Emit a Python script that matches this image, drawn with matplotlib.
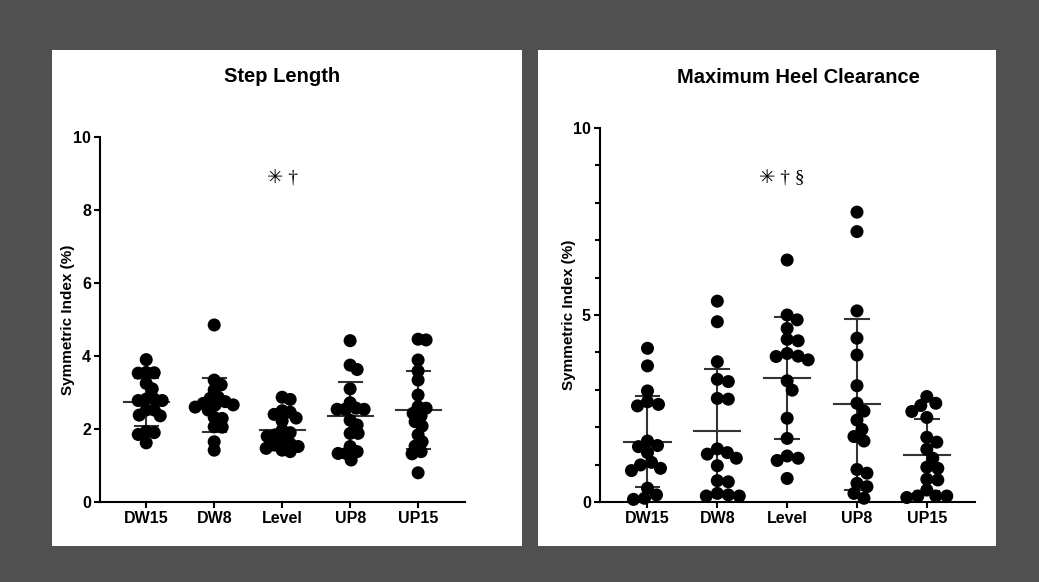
import numpy as np
import matplotlib
matplotlib.use('Agg')
import matplotlib.pyplot as plt
from matplotlib.patches import Rectangle

plt.rcParams['font.family'] = ['Liberation Sans', 'DejaVu Sans']

# groups on the x axis
groups = ['DW15', 'DW8', 'Level', 'UP8', 'UP15']

# Step Length symmetric index (%)
step_dw15 = [3.90, 3.54, 3.53, 3.55, 3.25, 3.10, 2.82, 2.82, 2.78, 2.78, 2.52, 2.52,
             2.36, 2.38, 1.93, 1.85, 1.90, 1.62]
step_dw8 = [4.85, 3.34, 3.21, 3.07, 2.75, 2.66, 2.84, 2.87, 2.66, 2.52, 2.32, 2.29,
            2.06, 2.05, 1.65, 1.42, 2.70, 2.60]
step_level = [2.87, 2.81, 2.50, 2.46, 2.40, 2.30, 2.22, 1.97, 1.90, 1.84, 1.80, 1.65,
              1.60, 1.56, 1.52, 1.47, 1.42, 1.38]
step_up8 = [4.42, 3.75, 3.63, 3.10, 2.72, 2.57, 2.54, 2.54, 2.54, 2.24, 2.11, 1.88,
            1.88, 1.52, 1.38, 1.33, 1.33, 1.15]
step_up15 = [4.44, 4.46, 3.89, 3.59, 3.34, 2.93, 2.61, 2.43, 2.57, 2.36, 2.08, 2.20,
             1.84, 1.65, 1.53, 1.38, 1.32, 0.80]

# Maximum Heel Clearance symmetric index (%)
heel_dw15 = [4.11, 3.64, 2.97, 2.61, 2.57, 2.68, 1.48, 1.51, 1.63, 1.32, 1.06, 0.90,
             0.99, 0.84, 0.37, 0.07, 0.10, 0.19]
heel_dw8 = [5.37, 4.82, 3.75, 3.22, 3.28, 2.75, 2.77, 1.42, 1.32, 1.17, 1.28, 0.97,
            0.54, 0.57, 0.16, 0.23, 0.16, 0.19]
heel_level = [6.47, 5.00, 4.87, 4.64, 4.31, 4.35, 3.80, 3.90, 3.97, 3.89, 3.24, 2.99,
              2.24, 1.70, 1.23, 1.11, 1.17, 0.63]
heel_up8 = [7.75, 7.23, 5.11, 4.38, 3.93, 3.11, 2.64, 2.43, 2.19, 1.94, 1.75, 1.63,
            0.87, 0.77, 0.50, 0.41, 0.23, 0.10]
heel_up15 = [2.82, 2.58, 2.64, 2.42, 2.26, 1.73, 1.60, 1.41, 1.17, 0.90, 0.93, 0.61,
             0.59, 0.32, 0.16, 0.16, 0.16, 0.12]

step_data = [step_dw15, step_dw8, step_level, step_up8, step_up15]
heel_data = [heel_dw15, heel_dw8, heel_level, heel_up8, heel_up15]

W, H = 1039, 582
fig = plt.figure(figsize=(W / 100, H / 100), dpi=100)
fig.patch.set_facecolor('#505050')

# white panels behind each chart
fig.patches.append(Rectangle((52 / W, 1 - 546 / H), (522 - 52) / W, (546 - 50) / H,
                             transform=fig.transFigure, facecolor='white', edgecolor='none', zorder=-10))
fig.patches.append(Rectangle((538 / W, 1 - 546 / H), (996 - 538) / W, (546 - 50) / H,
                             transform=fig.transFigure, facecolor='white', edgecolor='none', zorder=-10))

ax1 = fig.add_axes([100 / W, 1 - 502 / H, (465 - 100) / W, (502 - 137) / H])
ax2 = fig.add_axes([600 / W, 1 - 502 / H, (975 - 600) / W, (502 - 128) / H])


def swarm(ax, values, center, diam):
    # simple beeswarm in pixel space, points may overlap a bit like Prism
    trans = ax.transData
    placed = []
    order = np.argsort(values)[::-1]
    out = np.zeros(len(values))
    for i in order:
        px, py = trans.transform((center, values[i]))
        best = None
        for k in range(0, 200):
            for sgn in ([1] if k == 0 else [1, -1]):
                cx = px + sgn * k
                ok = all((cx - qx) ** 2 + (py - qy) ** 2 >= diam ** 2 for qx, qy in placed)
                if ok:
                    best = cx
                    break
            if best is not None:
                break
        placed.append((best, py))
        out[i] = trans.inverted().transform((best, py))[0]
    return out


def draw_panel(ax, data, title, title_xy, note, note_xy, ylim_ticks, minor, gap):
    ax.patch.set_alpha(0)
    ax.set_xlim(-0.68, 4.69)
    ax.set_ylim(0, 10)
    for sp in ['top', 'right']:
        ax.spines[sp].set_visible(False)
    for sp in ['left', 'bottom']:
        ax.spines[sp].set_linewidth(1.5)
        ax.spines[sp].set_color('black')
    for i, vals in enumerate(data):
        vals = np.array(vals)
        xs = swarm(ax, vals, i, gap)
        ax.scatter(xs, vals, s=88, color='black', edgecolor='none', zorder=3, clip_on=False)
        m = vals.mean()
        sd = vals.std(ddof=1)
        ax.plot([i - 0.33, i + 0.33], [m, m], color='#333333', lw=1.5, zorder=2)
        ax.plot([i, i], [m - sd, m + sd], color='#333333', lw=1.5, zorder=2)
        for v in (m - sd, m + sd):
            ax.plot([i - 0.17, i + 0.17], [v, v], color='#333333', lw=1.5, zorder=2)
    ax.set_xticks(range(len(groups)))
    ax.set_xticklabels(groups, fontsize=11.5, fontweight='bold')
    ax.set_yticks(ylim_ticks)
    ax.set_yticklabels([str(t) for t in ylim_ticks], fontsize=11.5, fontweight='bold')
    if minor:
        ax.set_yticks(minor, minor=True)
        ax.tick_params(axis='y', which='minor', length=3.5, width=1.5)
    ax.tick_params(axis='both', which='major', length=4.5, width=1.5, pad=2)
    ax.set_ylabel('Symmetric Index (%)', fontsize=11, fontweight='bold')
    ax.text(title_xy[0], title_xy[1], title, transform=ax.transAxes, ha='center', va='center',
            fontsize=14.5, fontweight='bold')
    ax.text(note_xy[0], note_xy[1], note, ha='center', va='center', fontsize=14,
            family=['Liberation Serif', 'DejaVu Sans'])


draw_panel(ax1, step_data, 'Step Length', (0.499, 1.167), '\u2733 \u2020', (2.0, 8.85),
           [0, 2, 4, 6, 8, 10], None, 8)
ax1.yaxis.set_label_coords(-0.069, 0.5)

draw_panel(ax2, heel_data, 'Maximum Heel Clearance', (0.53, 1.134), '\u2733 \u2020 \u00a7',
           (1.93, 8.64), [0, 5, 10], [1, 2, 3, 4, 6, 7, 8, 9], 10.5)
ax2.yaxis.set_label_coords(-0.064, 0.5)

fig.savefig('out.png', dpi=100, facecolor=fig.get_facecolor())
